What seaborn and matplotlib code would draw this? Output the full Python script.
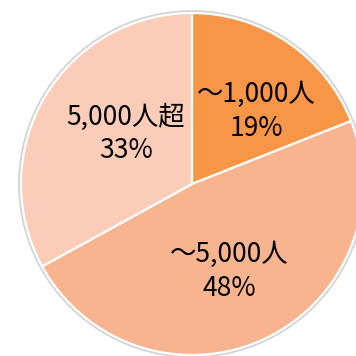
import matplotlib
matplotlib.use("Agg")
import matplotlib.pyplot as plt
from matplotlib.patches import Circle
import seaborn as sns

# Company size breakdown
categories = ["～1,000人", "～5,000人", "5,000人超"]
shares = [19, 48, 33]
colors = ["#F79646", "#F8B48E", "#FBCDB8"]

sns.set_theme(style="white")
plt.rcParams["font.family"] = ["Noto Sans CJK JP", "DejaVu Sans"]

fig = plt.figure(figsize=(3.56, 3.56), dpi=100)
ax = fig.add_axes([0, 0, 1, 1])

cx, cy, r = 192, 172, 171

# soft grey rim around the pie
ax.add_patch(Circle((cx, cy), r + 1.5, facecolor="none", edgecolor="#D4D4D4",
                    linewidth=2.0, zorder=0))

wedges, _ = ax.pie(
    shares,
    colors=colors,
    startangle=90,
    counterclock=False,
    center=(cx, cy),
    radius=r,
    wedgeprops=dict(edgecolor="white", linewidth=1.6),
    frame=True,
)
ax.set_xlim(0, 356)
ax.set_ylim(0, 356)
ax.set_aspect("equal")
ax.axis("off")

# label anchor points (name line, percentage line)
label_pos = [(256, 262), (229, 102), (126, 239)]
for name, v, (x, y) in zip(categories, shares, label_pos):
    ax.text(x, y, name, ha="center", va="center", fontsize=19, color="black")
    ax.text(x, y - 34, f"{v}%", ha="center", va="center", fontsize=19, color="black")

fig.savefig("out.png", dpi=100)
